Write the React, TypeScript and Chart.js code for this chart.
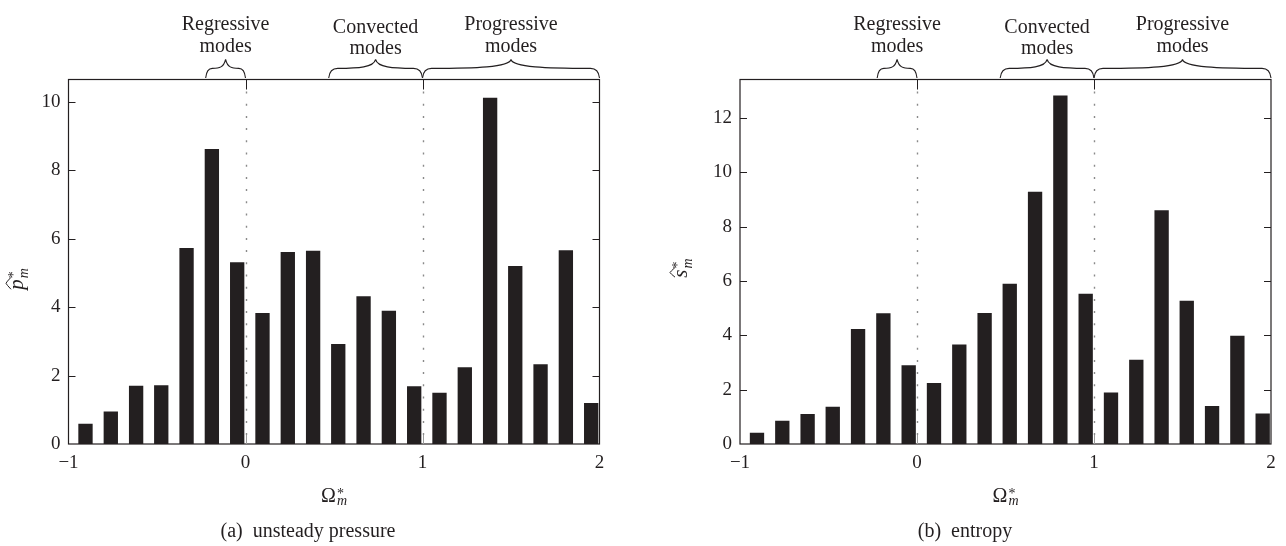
import React, { useEffect, useRef } from 'react';
import { Chart, registerables } from 'chart.js';

Chart.register(...registerables);

// Normalised mode frequencies (bar centres) shared by both spectra
const OMEGA = [
  -0.904, -0.761, -0.618, -0.476, -0.333, -0.19, -0.047,
  0.096, 0.239, 0.382, 0.524, 0.667, 0.81, 0.953,
  1.096, 1.239, 1.382, 1.524, 1.667, 1.81, 1.953,
];

// Unsteady pressure amplitudes
const PRESSURE = [
  0.59, 0.95, 1.7, 1.72, 5.73, 8.62, 5.31,
  3.83, 5.61, 5.65, 2.92, 4.32, 3.89, 1.69,
  1.5, 2.24, 10.12, 5.2, 2.33, 5.66, 1.2,
];

// Entropy amplitudes
const ENTROPY = [
  0.41, 0.86, 1.1, 1.37, 4.23, 4.81, 2.9,
  2.25, 3.66, 4.82, 5.9, 9.29, 12.83, 5.53,
  1.9, 3.1, 8.61, 5.27, 1.4, 3.99, 1.12,
];

const X_TICKS = [-1, 0, 1, 2];
const PRESSURE_Y_TICKS = [0, 2, 4, 6, 8, 10];
const ENTROPY_Y_TICKS = [0, 2, 4, 6, 8, 10, 12];

// Mode families marked with braces above the plot
const MODE_NAMES = ['Regressive', 'Convected', 'Progressive'];
const MODE_FROM = [-0.225, 0.47, 1];
const MODE_TO = [0, 1, 2];
const MODE_BOUNDARIES = [0, 1];

const SERIF = '"Liberation Serif", "DejaVu Serif", serif';
const INK = '#231f20';
const H = 546;
const PLOT_TOP = 79.5;
const PLOT_BOTTOM = 444;
const X_AXIS_H = 30;

type PanelCfg = {
  values: number[];
  yTicks: number[];
  yMax: number;
  symbol: string;
  tag: string;
  caption: string;
  left: number;
  width: number;
  plotLeft: number;
  plotRight: number;
  yTitleX: number;
  yTitleY: number;
  captionX: number;
  labelDy: number[];
};

function drawBrace(
  ctx: CanvasRenderingContext2D,
  xa: number,
  xb: number,
  yBase: number,
  yTop: number
) {
  const xm = (xa + xb) / 2;
  const yMid = yBase - (yBase - yTop) * 0.52;
  const r = Math.min(9, (xm - xa) / 3);
  ctx.beginPath();
  ctx.moveTo(xa, yBase);
  ctx.quadraticCurveTo(xa + 1, yMid, xa + r, yMid);
  ctx.bezierCurveTo(xa + r + (xm - xa - r) * 0.55, yMid, xm - 2, yMid - 1, xm, yTop);
  ctx.moveTo(xb, yBase);
  ctx.quadraticCurveTo(xb - 1, yMid, xb - r, yMid);
  ctx.bezierCurveTo(xb - r - (xb - xm - r) * 0.55, yMid, xm + 2, yMid - 1, xm, yTop);
  ctx.stroke();
}

function drawYTitle(ctx: CanvasRenderingContext2D, letter: string, bx: number, cy: number) {
  ctx.save();
  ctx.translate(bx, cy);
  ctx.rotate(-Math.PI / 2);
  ctx.fillStyle = INK;
  ctx.strokeStyle = INK;
  ctx.textBaseline = 'alphabetic';
  ctx.textAlign = 'left';
  ctx.font = `italic 21px ${SERIF}`;
  const wL = ctx.measureText(letter).width;
  ctx.font = `14px ${SERIF}`;
  const wS = ctx.measureText('*').width;
  ctx.font = `italic 14px ${SERIF}`;
  const wM = ctx.measureText('m').width;
  const total = wL + Math.max(wS, wM) + 1;
  const x0 = -total / 2;
  ctx.font = `italic 21px ${SERIF}`;
  ctx.fillText(letter, x0, 0);
  // wide hat over the symbol
  ctx.lineWidth = 1;
  ctx.beginPath();
  ctx.moveTo(x0 + 0.5, -12);
  ctx.quadraticCurveTo(x0 + wL * 0.5, -16.5, x0 + wL * 0.62, -17);
  ctx.quadraticCurveTo(x0 + wL * 0.75, -16.5, x0 + wL + 2, -12);
  ctx.stroke();
  ctx.font = `14px ${SERIF}`;
  ctx.fillText('*', x0 + wL + 1, -5);
  ctx.font = `italic 14px ${SERIF}`;
  ctx.fillText('m', x0 + wL + 1, 5);
  ctx.restore();
}

function drawXTitle(ctx: CanvasRenderingContext2D, cx: number, base: number) {
  ctx.save();
  ctx.fillStyle = INK;
  ctx.textBaseline = 'alphabetic';
  ctx.textAlign = 'left';
  ctx.font = `20px ${SERIF}`;
  const wO = ctx.measureText('Ω').width;
  ctx.font = `italic 14px ${SERIF}`;
  const wM = ctx.measureText('m').width;
  const x0 = cx - (wO + wM + 1) / 2;
  ctx.font = `20px ${SERIF}`;
  ctx.fillText('Ω', x0, base);
  ctx.font = `14px ${SERIF}`;
  ctx.fillText('*', x0 + wO + 1, base - 4);
  ctx.font = `italic 14px ${SERIF}`;
  ctx.fillText('m', x0 + wO + 1, base + 3);
  ctx.restore();
}

function makeDecor(cfg: PanelCfg) {
  return {
    id: 'panelDecor',
    beforeDatasetsDraw(chart: any) {
      const { ctx, chartArea, scales } = chart;
      ctx.save();
      ctx.strokeStyle = '#8a8a8a';
      ctx.lineWidth = 1.4;
      ctx.setLineDash([2, 10.2]);
      MODE_BOUNDARIES.forEach((b) => {
        const x = Math.round(scales.x.getPixelForValue(b)) + 0.5;
        ctx.beginPath();
        ctx.moveTo(x, chartArea.top + 12);
        ctx.lineTo(x, chartArea.bottom);
        ctx.stroke();
      });
      ctx.restore();
    },
    afterDatasetsDraw(chart: any) {
      const { ctx, chartArea, scales } = chart;
      const { left, right, top, bottom } = chartArea;
      ctx.save();
      ctx.strokeStyle = INK;
      ctx.lineWidth = 1.2;
      ctx.setLineDash([]);
      ctx.strokeRect(left, top, right - left, bottom - top);

      // inward ticks on both vertical borders
      ctx.lineWidth = 1;
      cfg.yTicks.forEach((v) => {
        const y = Math.round(scales.y.getPixelForValue(v)) + 0.5;
        if (v === 0) return;
        ctx.beginPath();
        ctx.moveTo(left, y);
        ctx.lineTo(left + 7, y);
        ctx.moveTo(right, y);
        ctx.lineTo(right - 7, y);
        ctx.stroke();
      });

      // short ticks at the family boundaries
      MODE_BOUNDARIES.forEach((b) => {
        const x = Math.round(scales.x.getPixelForValue(b)) + 0.5;
        ctx.strokeStyle = INK;
        ctx.beginPath();
        ctx.moveTo(x, top);
        ctx.lineTo(x, top + 10);
        ctx.stroke();
        ctx.strokeStyle = '#9a9a9a';
        ctx.beginPath();
        ctx.moveTo(x, bottom);
        ctx.lineTo(x, bottom - 9);
        ctx.stroke();
      });

      // braces and family names
      ctx.strokeStyle = INK;
      ctx.lineWidth = 1.1;
      ctx.fillStyle = INK;
      ctx.font = `20px ${SERIF}`;
      ctx.textAlign = 'center';
      ctx.textBaseline = 'alphabetic';
      MODE_NAMES.forEach((name, i) => {
        const xa = scales.x.getPixelForValue(MODE_FROM[i]);
        const xb = scales.x.getPixelForValue(MODE_TO[i]);
        drawBrace(ctx, xa, xb, top - 1.5, top - 20);
        const xm = (xa + xb) / 2;
        const dy = cfg.labelDy[i];
        ctx.fillText(name, xm, 29.5 + dy);
        ctx.fillText('modes', xm, 52 + dy * 0.6);
      });

      drawXTitle(ctx, (left + right) / 2, 502);
      drawYTitle(ctx, cfg.symbol, cfg.yTitleX, cfg.yTitleY);

      // sub-figure caption
      ctx.font = `20px ${SERIF}`;
      ctx.textAlign = 'center';
      ctx.fillStyle = INK;
      ctx.fillText(`${cfg.tag}\u2002${cfg.caption}`, cfg.captionX, 537);
      ctx.restore();
    },
  };
}

function BarPanel({ cfg }: { cfg: PanelCfg }) {
  const ref = useRef<HTMLCanvasElement | null>(null);

  useEffect(() => {
    if (!ref.current) return;
    const chart = new Chart(ref.current, {
      type: 'bar',
      data: {
        datasets: [
          {
            data: OMEGA.map((x, i) => ({ x, y: cfg.values[i] })),
            backgroundColor: INK,
            borderWidth: 0,
            barPercentage: 0.57,
            categoryPercentage: 1,
          },
        ],
      },
      options: {
        animation: false,
        responsive: false,
        maintainAspectRatio: false,
        devicePixelRatio: 1,
        layout: {
          padding: {
            left: 0,
            top: PLOT_TOP,
            right: cfg.width - cfg.plotRight,
            bottom: H - PLOT_BOTTOM - X_AXIS_H,
          },
        },
        plugins: {
          legend: { display: false },
          tooltip: { enabled: false },
          title: { display: false },
        },
        scales: {
          x: {
            type: 'linear',
            min: -1,
            max: 2,
            offset: false,
            grid: { display: false, drawTicks: false },
            border: { display: false },
            afterBuildTicks: (s: any) => {
              s.ticks = X_TICKS.map((v) => ({ value: v }));
            },
            afterFit: (s: any) => {
              s.height = X_AXIS_H;
            },
            ticks: {
              autoSkip: false,
              maxRotation: 0,
              padding: 8,
              color: INK,
              font: { family: SERIF, size: 19 },
              callback: (v: any) => (Number(v) < 0 ? '\u2212' + Math.abs(Number(v)) : String(v)),
            },
          },
          y: {
            type: 'linear',
            min: 0,
            max: cfg.yMax,
            grid: { display: false, drawTicks: false },
            border: { display: false },
            afterBuildTicks: (s: any) => {
              s.ticks = cfg.yTicks.map((v) => ({ value: v }));
            },
            afterFit: (s: any) => {
              s.width = cfg.plotLeft;
            },
            ticks: {
              padding: 8,
              color: INK,
              font: { family: SERIF, size: 19 },
            },
          },
        },
      },
      plugins: [makeDecor(cfg)],
    } as any);
    return () => chart.destroy();
  }, [cfg]);

  return (
    <canvas
      ref={ref}
      width={cfg.width}
      height={H}
      style={{ position: 'absolute', left: cfg.left, top: 0, width: cfg.width, height: H }}
    />
  );
}

const PANELS: PanelCfg[] = [
  {
    values: PRESSURE,
    yTicks: PRESSURE_Y_TICKS,
    yMax: 10.65,
    symbol: 'p',
    tag: '(a)',
    caption: 'unsteady pressure',
    left: 0,
    width: 640,
    plotLeft: 68.5,
    plotRight: 599.5,
    yTitleX: 23,
    yTitleY: 279,
    captionX: 308,
    labelDy: [0, 3, 0],
  },
  {
    values: ENTROPY,
    yTicks: ENTROPY_Y_TICKS,
    yMax: 13.42,
    symbol: 's',
    tag: '(b)',
    caption: 'entropy',
    left: 640,
    width: 646,
    plotLeft: 100,
    plotRight: 631,
    yTitleX: 47,
    yTitleY: 268,
    captionX: 325,
    labelDy: [0, 3, 0],
  },
];

export default function App() {
  return (
    <div style={{ position: 'absolute', left: 0, top: 0, width: 1286, height: H, background: '#fff' }}>
      {PANELS.map((p, i) => (
        <BarPanel key={i} cfg={p} />
      ))}
    </div>
  );
}
